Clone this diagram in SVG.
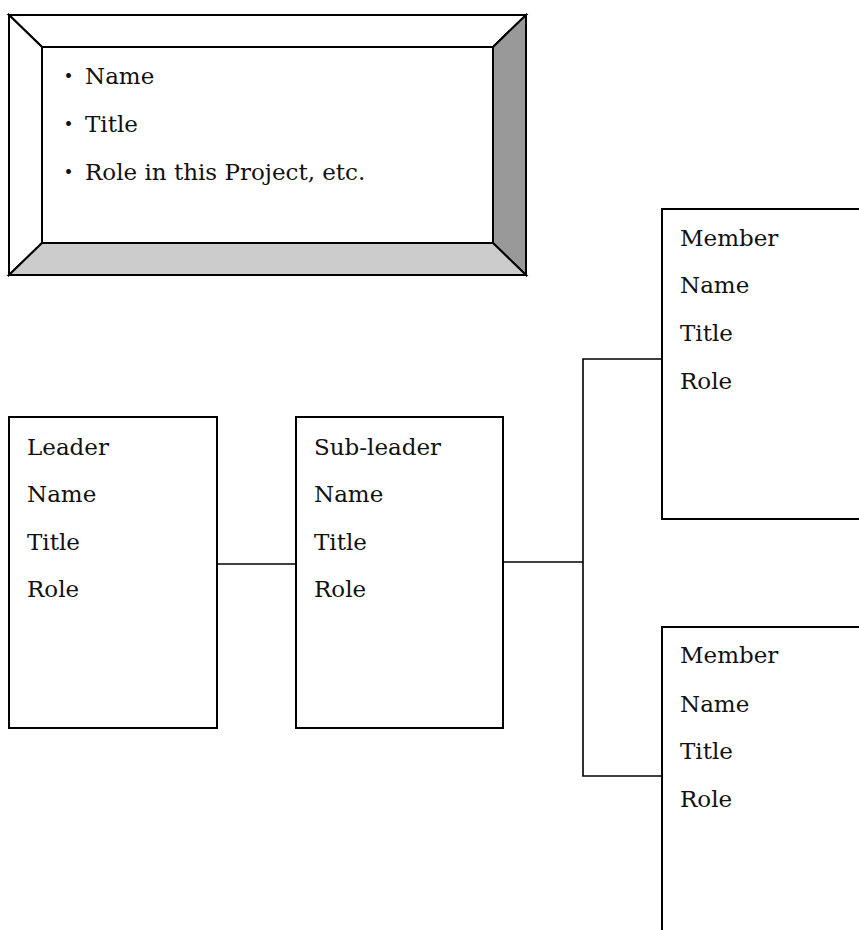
<svg xmlns="http://www.w3.org/2000/svg" width="859" height="930" viewBox="0 0 859 930">
<style>
  text { font-family: "DejaVu Serif", "Noto Sans CJK JP", serif; font-size: 23px; fill: #111; }
  .box { fill: #fff; stroke: #000; stroke-width: 2; }
  .bev { stroke: #000; stroke-width: 2; stroke-linejoin: miter; }
  .conn { fill: none; stroke: #000; stroke-width: 1.6; }
</style>
<rect width="859" height="930" fill="#fff"/>

<g id="info">
  <polygon class="bev" fill="#fff" points="9,15 526,15 493,47 42,47"/>
  <polygon class="bev" fill="#fff" points="9,15 42,47 42,243 9,275"/>
  <polygon class="bev" fill="#999" points="526,15 526,275 493,243 493,47"/>
  <polygon class="bev" fill="#ccc" points="9,275 42,243 493,243 526,275"/>
  <rect class="box" x="42" y="47" width="451" height="196"/>
  <text x="57" y="84">・<tspan x="85">Name</tspan></text>
  <text x="57" y="132">・<tspan x="85">Title</tspan></text>
  <text x="57" y="180">・<tspan x="85">Role in this Project, etc.</tspan></text>
</g>

<g id="connectors">
  <line class="conn" x1="217" y1="564" x2="296" y2="564"/>
  <line class="conn" x1="503" y1="562" x2="583" y2="562"/>
  <polyline class="conn" points="662,359 583,359 583,776 662,776"/>
</g>

<g id="leader">
  <rect class="box" x="9" y="417" width="208" height="311"/>
  <text x="27" y="455">Leader</text>
  <text x="27" y="502">Name</text>
  <text x="27" y="550">Title</text>
  <text x="27" y="597">Role</text>
</g>

<g id="subleader">
  <rect class="box" x="296" y="417" width="207" height="311"/>
  <text x="314" y="455">Sub-leader</text>
  <text x="314" y="502">Name</text>
  <text x="314" y="550">Title</text>
  <text x="314" y="597">Role</text>
</g>

<g id="member1">
  <rect class="box" x="662" y="209" width="220" height="310"/>
  <text x="680" y="246">Member</text>
  <text x="680" y="293">Name</text>
  <text x="680" y="341">Title</text>
  <text x="680" y="389">Role</text>
</g>

<g id="member2">
  <rect class="box" x="662" y="627" width="220" height="330"/>
  <text x="680" y="663">Member</text>
  <text x="680" y="712">Name</text>
  <text x="680" y="759">Title</text>
  <text x="680" y="807">Role</text>
</g>
</svg>
